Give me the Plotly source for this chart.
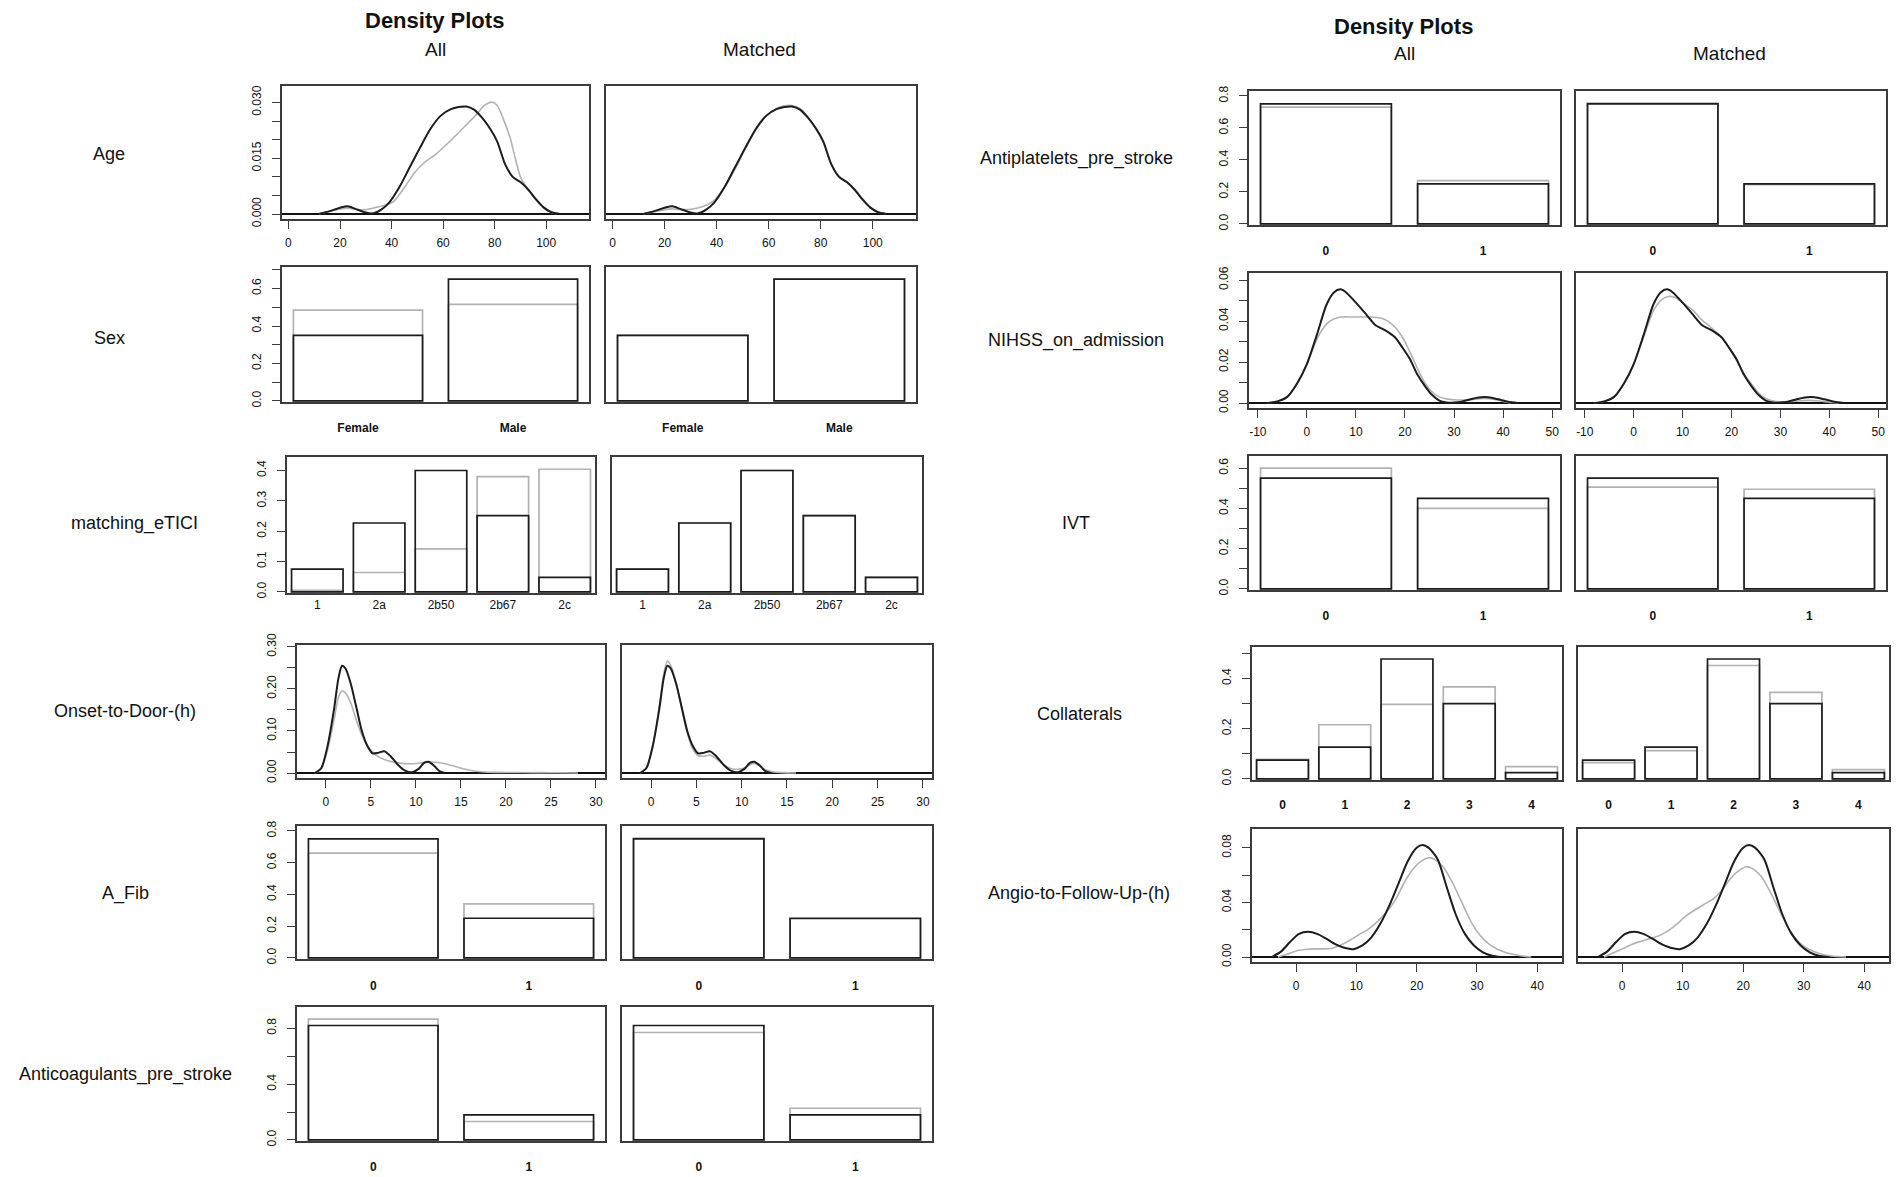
import plotly.graph_objects as go

W, H = 1897, 1177
FONT = "Liberation Sans, Arial, sans-serif"
BLACK = "#1c1c1c"
GRAY = "#b2b2b2"
BOXC = "#3c3c3c"

# ---------------- data ----------------
# Age (density)
age_all_blk_x = [12, 16, 20, 23, 26, 30, 33, 36, 39, 43, 47, 51, 55, 59, 63, 66, 69, 72, 75, 78, 81, 84, 87, 90, 93, 96, 99, 102, 105]
age_all_blk_y = [0.0001, 0.0008, 0.0017, 0.0021, 0.0014, 0.0004, 0.0002, 0.0012, 0.0030, 0.0072, 0.0125, 0.0178, 0.0228, 0.0264,
                 0.0282, 0.0288, 0.0289, 0.0281, 0.0260, 0.0232, 0.0195, 0.0135, 0.0100, 0.0086, 0.0066, 0.0040, 0.0018, 0.0005, 0.0001]
age_all_gry_x = [12, 16, 20, 23, 27, 30, 34, 38, 41, 45, 49, 53, 57, 61, 65, 69, 73, 76, 79, 81, 83, 86, 88, 90, 93, 96, 99, 102, 104]
age_all_gry_y = [0.0001, 0.0007, 0.0014, 0.0016, 0.0012, 0.0012, 0.0018, 0.0025, 0.0035, 0.0072, 0.0112, 0.0140, 0.0160, 0.0185,
                 0.0212, 0.0240, 0.0268, 0.0292, 0.0301, 0.0292, 0.0262, 0.0205, 0.0150, 0.0100, 0.0065, 0.0038, 0.0016, 0.0004, 0.0001]
age_m_gry_x = age_all_blk_x
age_m_gry_y = [0.0001, 0.0006, 0.0012, 0.0014, 0.0012, 0.0013, 0.0017, 0.0024, 0.0036, 0.0072, 0.0120, 0.0175, 0.0226, 0.0263,
               0.0284, 0.0291, 0.0292, 0.0284, 0.0262, 0.0230, 0.0192, 0.0135, 0.0102, 0.0086, 0.0064, 0.0038, 0.0017, 0.0005, 0.0001]
age_xticks = [0, 20, 40, 60, 80, 100]
age_yticks = [0, 0.005, 0.010, 0.015, 0.020, 0.025, 0.030]
age_yticklabels = ["0.000", "", "", "0.015", "", "", "0.030"]

# Onset-to-Door (density)
otd_blk_x = [-1.2, -0.5, 0.2, 0.9, 1.4, 1.8, 2.2, 2.8, 3.4, 4.0, 4.6, 5.2, 5.8, 6.5, 7.2, 8.0, 8.8, 9.6, 10.3, 10.9, 11.4, 12.0, 12.6, 13.2]
otd_blk_y = [0, 0.012, 0.065, 0.150, 0.225, 0.255, 0.248, 0.210, 0.155, 0.100, 0.065, 0.047, 0.048, 0.052, 0.040, 0.020,
             0.006, 0.002, 0.010, 0.024, 0.027, 0.018, 0.005, 0]
otd_all_gry_x = [-1.2, -0.5, 0.2, 0.9, 1.4, 1.8, 2.2, 2.8, 3.4, 4.0, 4.8, 5.6, 6.5, 7.5, 8.5, 9.5, 10.5, 11.5, 12.5, 13.5,
                 14.5, 15.5, 16.5, 18, 20, 22, 24, 26, 28]
otd_all_gry_y = [0, 0.010, 0.055, 0.125, 0.180, 0.195, 0.190, 0.165, 0.125, 0.090, 0.060, 0.042, 0.032, 0.026, 0.023, 0.022,
                 0.024, 0.026, 0.025, 0.021, 0.015, 0.009, 0.005, 0.002, 0.0015, 0.0012, 0.0010, 0.0008, 0]
otd_m_gry_x = [-1.2, -0.5, 0.2, 0.9, 1.4, 1.8, 2.2, 2.8, 3.4, 4.0, 4.6, 5.2, 5.8, 6.5, 7.2, 8.0, 8.8, 9.6, 10.3, 10.9, 11.4,
               12.0, 12.6, 13.4, 14.5, 16]
otd_m_gry_y = [0, 0.012, 0.066, 0.155, 0.235, 0.266, 0.255, 0.212, 0.152, 0.095, 0.058, 0.041, 0.040, 0.043, 0.034, 0.020,
               0.011, 0.009, 0.012, 0.020, 0.023, 0.017, 0.008, 0.003, 0.001, 0]
otd_xticks = [0, 5, 10, 15, 20, 25, 30]
otd_yticks = [0, 0.05, 0.10, 0.15, 0.20, 0.25, 0.30]
otd_yticklabels = ["0.00", "", "0.10", "", "0.20", "", "0.30"]

# NIHSS on admission (density)
nih_blk_x = [-8, -6, -4, -2, 0, 2, 4, 5.5, 6.8, 8, 10, 12, 14, 16, 18, 19.5, 21, 22.5, 24, 25.5, 27, 28.5, 30, 31.5, 33,
             35, 37, 39, 41, 43]
nih_blk_y = [0, 0.0008, 0.003, 0.0095, 0.019, 0.033, 0.048, 0.054, 0.0555, 0.054, 0.049, 0.0435, 0.038, 0.0355, 0.032,
             0.027, 0.0215, 0.014, 0.0085, 0.0040, 0.0012, 0.0003, 0.0002, 0.0006, 0.0016, 0.0027, 0.0028, 0.0018, 0.0006, 0]
nih_all_gry_x = [-8, -6, -4, -2, 0, 2, 4, 5.5, 7, 9, 11, 13, 15, 16.5, 18, 19.5, 21, 22.5, 24, 25.5, 27, 28.5, 30, 32, 34,
                 36, 38, 40, 41.5]
nih_all_gry_y = [0, 0.0008, 0.003, 0.0095, 0.019, 0.031, 0.0385, 0.041, 0.042, 0.042, 0.042, 0.042, 0.0415, 0.040, 0.037,
                 0.032, 0.025, 0.017, 0.010, 0.0055, 0.003, 0.002, 0.0016, 0.0015, 0.0018, 0.0022, 0.0018, 0.0008, 0]
nih_m_gry_x = [-8, -6, -4, -2, 0, 2, 4, 5.5, 7, 8.5, 10, 12, 14, 16, 18, 19.5, 21, 22.5, 24, 25.5, 27, 28.5, 30, 32, 34,
               36, 38, 40, 42]
nih_m_gry_y = [0, 0.0008, 0.003, 0.0095, 0.019, 0.032, 0.045, 0.050, 0.052, 0.0515, 0.049, 0.0455, 0.0405, 0.0365, 0.032,
               0.027, 0.021, 0.0145, 0.0095, 0.005, 0.0022, 0.001, 0.0006, 0.0007, 0.0011, 0.0013, 0.0010, 0.0004, 0]
nih_xticks = [-10, 0, 10, 20, 30, 40, 50]
nih_yticks = [0, 0.01, 0.02, 0.03, 0.04, 0.05, 0.06]
nih_yticklabels = ["0.00", "", "0.02", "", "0.04", "", "0.06"]

# Angio-to-Follow-Up (density)
ang_blk_x = [-4, -2.5, -1, 0.5, 2, 3.5, 5, 6.5, 8, 9.5, 11, 12.5, 14, 15.5, 17, 18.5, 20, 21, 22, 23.5, 25, 26.5, 28,
             29.5, 31, 32.5, 34]
ang_blk_y = [0, 0.004, 0.011, 0.017, 0.0185, 0.017, 0.0135, 0.0095, 0.0068, 0.0058, 0.0085, 0.0145, 0.0245, 0.038, 0.054,
             0.070, 0.080, 0.082, 0.080, 0.0715, 0.051, 0.031, 0.017, 0.0085, 0.0035, 0.0010, 0]
ang_all_gry_x = [-3, -1.5, 0, 1.5, 3, 4.5, 6, 7.5, 9, 10.5, 12, 13.5, 15, 16.5, 18, 19.5, 21, 22, 23, 24.5, 26, 27.5, 29,
                 30.5, 32, 33.5, 35, 37, 39]
ang_all_gry_y = [0, 0.002, 0.0045, 0.0055, 0.006, 0.006, 0.0065, 0.009, 0.0125, 0.0165, 0.0205, 0.026, 0.033, 0.042, 0.055,
                 0.065, 0.071, 0.0728, 0.0715, 0.0655, 0.054, 0.040, 0.026, 0.016, 0.0095, 0.0055, 0.003, 0.0012, 0]
ang_m_gry_x = [-3, -1.5, 0, 1.5, 3, 4.5, 6, 7.5, 9, 10.5, 12, 13.5, 15, 16.5, 18, 19.5, 20.5, 21.5, 23, 24.5, 26, 27.5,
               29, 30.5, 32, 33.5, 35, 37]
ang_m_gry_y = [0, 0.003, 0.006, 0.009, 0.0115, 0.0135, 0.0155, 0.019, 0.024, 0.030, 0.0345, 0.0385, 0.0425, 0.049, 0.058,
               0.064, 0.0662, 0.065, 0.059, 0.0475, 0.034, 0.021, 0.012, 0.0065, 0.0035, 0.0015, 0.0006, 0]
ang_xticks = [0, 10, 20, 30, 40]
ang_yticks = [0, 0.02, 0.04, 0.06, 0.08]
ang_yticklabels = ["0.00", "", "0.04", "", "0.08"]

# Categorical (bar) variables
sex_cats = ["Female", "Male"]
sex_all_blk = [0.35, 0.65]
sex_all_gry = [0.485, 0.515]
sex_m_blk = [0.35, 0.65]
sex_m_gry = [0.35, 0.65]
sex_yticks = [0, 0.1, 0.2, 0.3, 0.4, 0.5, 0.6, 0.7]
sex_yticklabels = ["0.0", "", "0.2", "", "0.4", "", "0.6", ""]

tici_cats = ["1", "2a", "2b50", "2b67", "2c"]
tici_all_blk = [0.075, 0.227, 0.400, 0.251, 0.048]
tici_all_gry = [0.005, 0.064, 0.142, 0.380, 0.404]
tici_m_blk = [0.075, 0.227, 0.400, 0.251, 0.048]
tici_m_gry = [0.075, 0.227, 0.400, 0.251, 0.048]
tici_yticks = [0, 0.1, 0.2, 0.3, 0.4]
tici_yticklabels = ["0.0", "0.1", "0.2", "0.3", "0.4"]

bin_cats = ["0", "1"]
afib_all_blk = [0.75, 0.25]
afib_all_gry = [0.66, 0.34]
afib_m_blk = [0.75, 0.25]
afib_m_gry = [0.755, 0.245]
afib_yticks = [0, 0.2, 0.4, 0.6, 0.8]
afib_yticklabels = ["0.0", "0.2", "0.4", "0.6", "0.8"]

antic_all_blk = [0.82, 0.18]
antic_all_gry = [0.866, 0.132]
antic_m_blk = [0.82, 0.18]
antic_m_gry = [0.77, 0.227]
antic_yticks = [0, 0.2, 0.4, 0.6, 0.8]
antic_yticklabels = ["0.0", "", "0.4", "", "0.8"]

antip_all_blk = [0.75, 0.25]
antip_all_gry = [0.73, 0.27]
antip_m_blk = [0.75, 0.25]
antip_m_gry = [0.755, 0.245]
antip_yticks = [0, 0.2, 0.4, 0.6, 0.8]
antip_yticklabels = ["0.0", "0.2", "0.4", "0.6", "0.8"]

ivt_all_blk = [0.55, 0.45]
ivt_all_gry = [0.60, 0.40]
ivt_m_blk = [0.55, 0.45]
ivt_m_gry = [0.505, 0.495]
ivt_yticks = [0, 0.1, 0.2, 0.3, 0.4, 0.5, 0.6]
ivt_yticklabels = ["0.0", "", "0.2", "", "0.4", "", "0.6"]

coll_cats = ["0", "1", "2", "3", "4"]
coll_all_blk = [0.075, 0.127, 0.478, 0.300, 0.025]
coll_all_gry = [0.078, 0.216, 0.297, 0.367, 0.049]
coll_m_blk = [0.075, 0.127, 0.478, 0.300, 0.025]
coll_m_gry = [0.065, 0.113, 0.452, 0.345, 0.037]
coll_yticks = [0, 0.1, 0.2, 0.3, 0.4, 0.5]
coll_yticklabels = ["0.0", "", "0.2", "", "0.4", ""]

# ---------------- layout helpers ----------------
fig = go.Figure()
layout_axes = {}
counter = [0]


def axis_names():
    counter[0] += 1
    n = counter[0]
    s = "" if n == 1 else str(n)
    return "x" + s, "y" + s, "xaxis" + s, "yaxis" + s


def base_axis():
    return dict(showgrid=False, zeroline=False, showline=True, mirror=True, automargin=False,
                linecolor=BOXC, linewidth=1.6,
                tickfont=dict(family=FONT, size=12, color="#111"),
                tickcolor=BOXC, tickwidth=1.2, layer="above traces")


def yaxis_ticks(ay, show_y, yticks, yticklabels):
    if show_y:
        ay.update(tickmode="array", tickvals=yticks, ticktext=yticklabels, ticks="outside",
                  ticklen=8, tickangle=-90, ticklabelstandoff=6,
                  tickfont=dict(family=FONT, size=12, color="#111"))
    else:
        ay.update(showticklabels=False, ticks="")


def density_panel(xl, xr, yt, yb, series, xrange, yrange, xticks, yticks, yticklabels, show_y):
    xa, ya, xk, yk = axis_names()
    for xs, ys, col, wd in series:
        fig.add_trace(go.Scatter(x=xs, y=ys, mode="lines", xaxis=xa, yaxis=ya, showlegend=False,
                                 line=dict(color=col, width=wd, shape="spline", smoothing=0.7),
                                 hoverinfo="skip"))
    ax = base_axis()
    ax.update(domain=[xl / W, xr / W], anchor=ya, range=xrange, tickmode="array",
              tickvals=xticks, ticktext=[str(t) for t in xticks], ticks="outside", ticklen=8,
              ticklabelstandoff=4)
    ay = base_axis()
    ay.update(domain=[1 - yb / H, 1 - yt / H], anchor=xa, range=yrange,
              zeroline=True, zerolinecolor="#111", zerolinewidth=1.8)
    yaxis_ticks(ay, show_y, yticks, yticklabels)
    layout_axes[xk] = ax
    layout_axes[yk] = ay


def bar_panel(xl, xr, yt, yb, cats, gry, blk, ytop, yticks, yticklabels, show_y, bold, standoff):
    xa, ya, xk, yk = axis_names()
    for vals, col in ((gry, GRAY), (blk, BLACK)):
        fig.add_trace(go.Bar(x=cats, y=vals, xaxis=xa, yaxis=ya, showlegend=False, width=0.833,
                             marker=dict(color="rgba(0,0,0,0)", line=dict(color=col, width=1.7)),
                             hoverinfo="skip"))
    ax = base_axis()
    ticktext = ["<b>%s</b>" % c for c in cats] if bold else list(cats)
    ax.update(domain=[xl / W, xr / W], anchor=ya, type="category", range=[-0.49, len(cats) - 0.51],
              tickmode="array", tickvals=cats, ticktext=ticktext, ticks="",
              ticklabelstandoff=standoff)
    ay = base_axis()
    ay.update(domain=[1 - yb / H, 1 - yt / H], anchor=xa, range=[-0.008 * ytop, ytop])
    yaxis_ticks(ay, show_y, yticks, yticklabels)
    layout_axes[xk] = ax
    layout_axes[yk] = ay


def dens_range(*ys):
    m = max(max(v) for v in ys) * 1.1
    return [-0.04 * m, 1.04 * m]


def bar_top(*vs):
    return 1.1 * max(max(v) for v in vs)


LW_B = 2.0
LW_G = 1.6

# ---------------- left block ----------------
LA = (282, 589)
LM = (606, 916)
LA2 = (287, 595)
LM2 = (612, 922)
LA3 = (297, 605)
LM3 = (622, 932)

r = dens_range(age_all_blk_y, age_all_gry_y, age_m_gry_y)
density_panel(*LA, 86, 219, [(age_all_gry_x, age_all_gry_y, GRAY, LW_G), (age_all_blk_x, age_all_blk_y, BLACK, LW_B)],
              [-2.5, 116.6], r, age_xticks, age_yticks, age_yticklabels, True)
density_panel(*LM, 86, 219, [(age_m_gry_x, age_m_gry_y, GRAY, LW_G), (age_all_blk_x, age_all_blk_y, BLACK, LW_B)],
              [-2.5, 116.6], r, age_xticks, age_yticks, age_yticklabels, False)

t = bar_top(sex_all_blk, sex_all_gry, sex_m_blk, sex_m_gry)
bar_panel(*LA, 267, 402, sex_cats, sex_all_gry, sex_all_blk, t, sex_yticks, sex_yticklabels, True, True, 14)
bar_panel(*LM, 267, 402, sex_cats, sex_m_gry, sex_m_blk, t, sex_yticks, sex_yticklabels, False, True, 14)

t = bar_top(tici_all_blk, tici_all_gry, tici_m_blk, tici_m_gry)
bar_panel(*LA2, 457, 593, tici_cats, tici_all_gry, tici_all_blk, t, tici_yticks, tici_yticklabels, True, False, 0)
bar_panel(*LM2, 457, 593, tici_cats, tici_m_gry, tici_m_blk, t, tici_yticks, tici_yticklabels, False, False, 0)

r = dens_range(otd_blk_y, otd_all_gry_y, otd_m_gry_y)
density_panel(*LA3, 645, 778, [(otd_all_gry_x, otd_all_gry_y, GRAY, LW_G), (otd_blk_x, otd_blk_y, BLACK, LW_B)],
              [-3.2, 31.0], r, otd_xticks, otd_yticks, otd_yticklabels, True)
density_panel(*LM3, 645, 778, [(otd_m_gry_x, otd_m_gry_y, GRAY, LW_G), (otd_blk_x, otd_blk_y, BLACK, LW_B)],
              [-3.2, 31.0], r, otd_xticks, otd_yticks, otd_yticklabels, False)

t = bar_top(afib_all_blk, afib_all_gry, afib_m_blk, afib_m_gry)
bar_panel(*LA3, 826, 959, bin_cats, afib_all_gry, afib_all_blk, t, afib_yticks, afib_yticklabels, True, True, 15)
bar_panel(*LM3, 826, 959, bin_cats, afib_m_gry, afib_m_blk, t, afib_yticks, afib_yticklabels, False, True, 15)

t = bar_top(antic_all_blk, antic_all_gry, antic_m_blk, antic_m_gry)
bar_panel(*LA3, 1007, 1141, bin_cats, antic_all_gry, antic_all_blk, t, antic_yticks, antic_yticklabels, True, True, 14)
bar_panel(*LM3, 1007, 1141, bin_cats, antic_m_gry, antic_m_blk, t, antic_yticks, antic_yticklabels, False, True, 14)

# ---------------- right block ----------------
RA = (1249, 1560)
RM = (1576, 1886)
RA2 = (1252, 1562)
RM2 = (1578, 1889)

t = bar_top(antip_all_blk, antip_all_gry, antip_m_blk, antip_m_gry)
bar_panel(*RA, 91, 225, bin_cats, antip_all_gry, antip_all_blk, t, antip_yticks, antip_yticklabels, True, True, 14)
bar_panel(*RM, 91, 225, bin_cats, antip_m_gry, antip_m_blk, t, antip_yticks, antip_yticklabels, False, True, 14)

r = dens_range(nih_blk_y, nih_all_gry_y, nih_m_gry_y)
density_panel(*RA, 273, 408, [(nih_all_gry_x, nih_all_gry_y, GRAY, LW_G), (nih_blk_x, nih_blk_y, BLACK, LW_B)],
              [-11.8, 51.6], r, nih_xticks, nih_yticks, nih_yticklabels, True)
density_panel(*RM, 273, 408, [(nih_m_gry_x, nih_m_gry_y, GRAY, LW_G), (nih_blk_x, nih_blk_y, BLACK, LW_B)],
              [-11.8, 51.6], r, nih_xticks, nih_yticks, nih_yticklabels, False)

t = bar_top(ivt_all_blk, ivt_all_gry, ivt_m_blk, ivt_m_gry)
bar_panel(*RA, 456, 590, bin_cats, ivt_all_gry, ivt_all_blk, t, ivt_yticks, ivt_yticklabels, True, True, 14)
bar_panel(*RM, 456, 590, bin_cats, ivt_m_gry, ivt_m_blk, t, ivt_yticks, ivt_yticklabels, False, True, 14)

t = bar_top(coll_all_blk, coll_all_gry, coll_m_blk, coll_m_gry)
bar_panel(*RA2, 647, 780, coll_cats, coll_all_gry, coll_all_blk, t, coll_yticks, coll_yticklabels, True, True, 13)
bar_panel(*RM2, 647, 780, coll_cats, coll_m_gry, coll_m_blk, t, coll_yticks, coll_yticklabels, False, True, 13)

r = dens_range(ang_blk_y, ang_all_gry_y, ang_m_gry_y)
density_panel(*RA2, 829, 962, [(ang_all_gry_x, ang_all_gry_y, GRAY, LW_G), (ang_blk_x, ang_blk_y, BLACK, LW_B)],
              [-7.3, 44.1], r, ang_xticks, ang_yticks, ang_yticklabels, True)
density_panel(*RM2, 829, 962, [(ang_m_gry_x, ang_m_gry_y, GRAY, LW_G), (ang_blk_x, ang_blk_y, BLACK, LW_B)],
              [-7.3, 44.1], r, ang_xticks, ang_yticks, ang_yticklabels, False)

# ---------------- text ----------------
annotations = []


def text(x, y, s, size, bold=False):
    annotations.append(dict(x=x / W, y=1 - y / H, xref="paper", yref="paper", showarrow=False,
                            text=("<b>%s</b>" % s) if bold else s, xanchor="center", yanchor="middle",
                            font=dict(family=FONT, size=size, color="#111")))


text(434, 21, "Density Plots", 22, True)
text(435, 49, "All", 19)
text(759, 49, "Matched", 19)
text(1403, 26, "Density Plots", 22, True)
text(1404, 54, "All", 19)
text(1729, 54, "Matched", 19)

row_labels = ["Age", "Sex", "matching_eTICI", "Onset-to-Door-(h)", "A_Fib", "Anticoagulants_pre_stroke"]
row_label_pos = [(109, 154), (109, 338), (134, 524), (125, 711), (125, 893), (125, 1074)]
for s, (x, y) in zip(row_labels, row_label_pos):
    text(x, y, s, 18)

row_labels_r = ["Antiplatelets_pre_stroke", "NIHSS_on_admission", "IVT", "Collaterals", "Angio-to-Follow-Up-(h)"]
row_label_pos_r = [(1076, 158), (1076, 340), (1076, 523), (1079, 714), (1079, 893)]
for s, (x, y) in zip(row_labels_r, row_label_pos_r):
    text(x, y, s, 18)

fig.update_layout(width=W, height=H, margin=dict(l=0, r=0, t=0, b=0, autoexpand=False),
                  paper_bgcolor="white", plot_bgcolor="white", barmode="overlay",
                  font=dict(family=FONT, color="#222"), showlegend=False,
                  annotations=annotations, **layout_axes)

fig.write_html("out.html", config={"displayModeBar": False},
               post_script="document.body.style.margin='0';document.body.style.padding='0';"
                           "document.body.style.overflow='hidden';")
